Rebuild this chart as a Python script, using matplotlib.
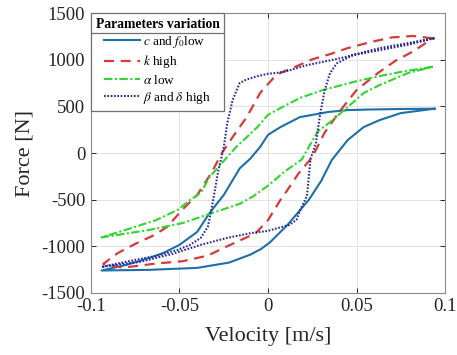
import matplotlib
matplotlib.use("Agg")
import matplotlib.pyplot as plt
from matplotlib.lines import Line2D

plt.rcParams['font.family'] = ['Liberation Serif', 'DejaVu Serif']
plt.rcParams['mathtext.fontset'] = 'stix'
plt.rcParams['axes.unicode_minus'] = False

# ---- data (velocity [m/s], force [N]) ----
# c and f0 low
c_up_v = [0.094, 0.075, 0.056, 0.045, 0.034, 0.018, 0.007, 0.000, -0.0045, -0.010, -0.016, -0.025, -0.033, -0.040, -0.050, -0.059, -0.067, -0.080, -0.094]
c_up_f = [475, 472, 466, 460, 440, 385, 278, 195, 64, -60, -165, -450, -643, -846, -985, -1071, -1125, -1200, -1260]
c_lo_v = [-0.094, -0.067, -0.040, -0.022, -0.010, -0.004, 0.001, 0.011, 0.023, 0.030, 0.036, 0.045, 0.054, 0.063, 0.075, 0.094]
c_lo_f = [-1260, -1253, -1232, -1175, -1090, -1030, -960, -771, -503, -300, -75, 139, 278, 353, 428, 475]

# k high
k_up_v = [0.093, 0.082, 0.070, 0.058, 0.045, 0.035, 0.025, 0.015, 0.007, 0.003, -0.0045, -0.012, -0.020, -0.026, -0.032, -0.040, -0.048, -0.057, -0.064, -0.075, -0.085, -0.093]
k_up_f = [1230, 1255, 1240, 1190, 1125, 1060, 1005, 921, 860, 803, 643, 385, 171, 0, -214, -450, -600, -792, -878, -975, -1075, -1189]
k_lo_v = [-0.093, -0.082, -0.063, -0.048, -0.034, -0.023, -0.015, -0.007, 0.000, 0.007, 0.011, 0.017, 0.025, 0.032, 0.041, 0.050, 0.062, 0.072, 0.082, 0.093]
k_lo_f = [-1189, -1230, -1185, -1160, -1100, -1000, -930, -860, -720, -503, -396, -225, -43, 220, 460, 675, 857, 990, 1090, 1230]

# alpha low
a_up_v = [0.093, 0.075, 0.063, 0.050, 0.031, 0.018, 0.007, 0.000, -0.006, -0.012, -0.018, -0.026, -0.033, -0.038, -0.044, -0.051, -0.063, -0.078, -0.094]
a_up_f = [925, 870, 825, 770, 675, 590, 482, 410, 278, 170, 64, -107, -257, -428, -503, -610, -718, -810, -905]
a_lo_v = [-0.094, -0.067, -0.048, -0.033, -0.016, -0.008, 0.000, 0.010, 0.019, 0.028, 0.035, 0.045, 0.054, 0.063, 0.079, 0.093]
a_lo_f = [-905, -825, -750, -653, -545, -460, -350, -190, -70, 230, 330, 493, 643, 728, 857, 925]

# beta and delta high
b_up_v = [0.094, 0.075, 0.063, 0.041, 0.022, 0.0085, 0.000, -0.008, -0.013, -0.016, -0.020, -0.023, -0.025, -0.027, -0.028, -0.030, -0.032, -0.034, -0.038, -0.044, -0.051, -0.063, -0.072, -0.094]
b_up_f = [1232, 1165, 1125, 1017, 942, 867, 850, 814, 780, 750, 568, 321, 64, -107, -182, -396, -610, -792, -910, -985, -1039, -1103, -1135, -1221]
b_lo_v = [-0.094, -0.072, -0.054, -0.038, -0.023, -0.010, 0.000, 0.012, 0.016, 0.019, 0.022, 0.024, 0.027, 0.0295, 0.032, 0.035, 0.039, 0.048, 0.063, 0.080, 0.094]
b_lo_f = [-1221, -1167, -1082, -985, -910, -860, -835, -771, -718, -578, -460, -60, 100, 428, 675, 857, 964, 1050, 1103, 1165, 1232]

labels = [r'$c$ and $f_0$low', r'$k$ high', r'$\alpha$ low', r'$\beta$ and $\delta$ high']
x_ticks = [-0.1, -0.05, 0, 0.05, 0.1]
x_ticklabels = ['-0.1', '-0.05', '0', '0.05', '0.1']
y_ticks = [-1500, -1000, -500, 0, 500, 1000, 1500]

fig = plt.figure(figsize=(4.57, 3.55), dpi=100)
ax = fig.add_axes([0.199, 0.175, 0.775, 0.788])

ax.plot(c_up_v + c_lo_v, c_up_f + c_lo_f, color='#1f6fa8', lw=1.5, ls='-', label=labels[0], zorder=3)
ax.plot(k_up_v + k_lo_v, k_up_f + k_lo_f, color='#d63a3a', lw=1.6, ls=(0, (4.5, 3)), label=labels[1], zorder=3)
ax.plot(a_up_v + a_lo_v, a_up_f + a_lo_f, color='#2fd62f', lw=1.5, ls=(0, (4, 1.2, 1, 1.2)), label=labels[2], zorder=3)
ax.plot(b_up_v + b_lo_v, b_up_f + b_lo_f, color='#2a2a9c', lw=1.5, ls=(0, (0.8, 0.8)), label=labels[3], zorder=4)

ax.set_xlim(-0.1, 0.1)
ax.set_ylim(-1500, 1500)
ax.set_xticks(x_ticks)
ax.set_xticklabels(x_ticklabels)
ax.set_yticks(y_ticks)
ax.grid(True, color='#e3e3e3', lw=0.7)
ax.set_axisbelow(True)
ax.tick_params(direction='in', length=3.5, width=0.7, top=True, right=True,
               labelsize=13.5, colors='#262626', pad=4)
for s in ax.spines.values():
    s.set_color('#8a8a8a')
    s.set_linewidth(0.8)
ax.set_xlabel('Velocity [m/s]', fontsize=16, color='#262626', labelpad=8)
ax.set_ylabel('Force [N]', fontsize=16, color='#262626', labelpad=5)

leg = ax.legend(loc='upper left', bbox_to_anchor=(0, 1), borderaxespad=0,
                fancybox=False, framealpha=1, edgecolor='#707070',
                title='Parameters variation',
                title_fontproperties={'weight': 'bold', 'size': 9.8, 'family': 'Liberation Serif'},
                prop={'size': 9.5}, handlelength=2.7, handletextpad=0.2,
                labelspacing=0.25, borderpad=0.35)
leg.get_frame().set_linewidth(0.9)
leg.set_zorder(10)

fig.canvas.draw()
fb = leg.get_frame().get_window_extent()
tb = leg.get_title().get_window_extent()
ysep = tb.y0 - 2
inv = fig.transFigure.inverted()
(x0, y0) = inv.transform((fb.x0, ysep))
(x1, _) = inv.transform((fb.x1, ysep))
fig.add_artist(Line2D([x0, x1], [y0, y0], color='#707070', lw=0.9, zorder=11))

fig.savefig('out.png', dpi=100)
